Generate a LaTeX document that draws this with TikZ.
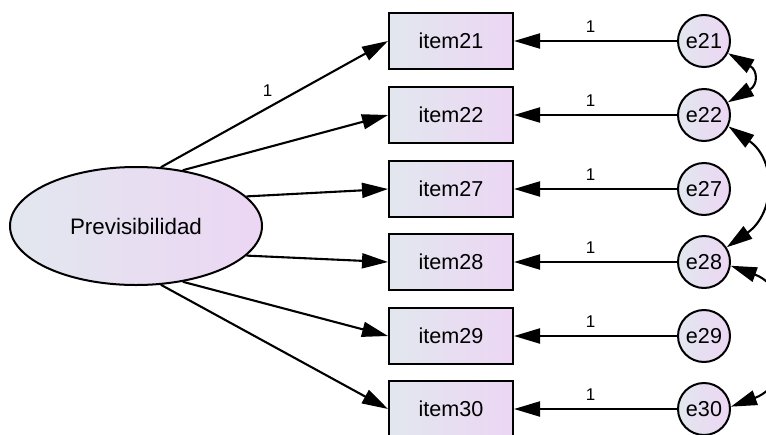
\documentclass[tikz,border=0pt]{standalone}
\usepackage{fontspec}
\setmainfont{Liberation Sans}
\usetikzlibrary{arrows.meta,shapes.geometric}

\definecolor{fillleft}{RGB}{226,231,239}
\definecolor{fillright}{RGB}{236,214,243}

\tikzset{
    tip/.tip={Triangle[length=13pt,width=7.5pt]},
    obs/.style={draw,line width=1pt,minimum width=62pt,minimum height=28pt,inner sep=0pt,
        left color=fillleft,right color=fillright,font=\fontsize{10.8}{12}\selectfont},
    err/.style={circle,draw,line width=1pt,minimum size=26pt,inner sep=0pt,
        left color=fillleft,right color=fillright,font=\fontsize{10.8}{12}\selectfont},
    lat/.style={ellipse,draw,line width=1pt,minimum width=126pt,minimum height=59pt,inner sep=0pt,
        left color=fillleft,right color=fillright,font=\fontsize{11.2}{12}\selectfont},
    loadarrow/.style={line width=1.05pt,-tip},
    cov/.style={line width=1.05pt,tip-tip},
    coef/.style={font=\fontsize{8.5}{9}\selectfont,inner sep=0pt}
}

\begin{document}
\begin{tikzpicture}[x=0.5pt,y=-0.5pt]
    \useasboundingbox (0,0) rectangle (766,434);
    \clip (0,0) rectangle (766,434);
    \node[lat] (prev) at (136,226) {Previsibilidad};
    \foreach \n/\y/\a in {21/41/67,22/115/50,27/189/15,28/262/-15,29/336/-50,30/409/-67} {
        \node[obs] (item\n) at (451,\y) {item\n};
        \node[err] (e\n) at (704,\y) {e\n};
        \draw[loadarrow] (prev.\a) -- (item\n.west);
        \draw[loadarrow] (e\n) -- node[coef,pos=0.53,above=3.5pt] {1} (item\n);
    }
    \path (prev.67) -- node[coef,pos=0.47,above=5.5pt] {1} (item21.west);
    % error covariances
    \draw[cov] (e21.-27) to[out=-30,in=30,looseness=1.8] (e22.28);
    \draw[cov] (e22.-25) to[out=-35,in=35,looseness=1.25] (e28.33);
    \draw[cov] (e28.-8) to[out=-20,in=20,looseness=1.3] (e30.5);
\end{tikzpicture}
\end{document}
